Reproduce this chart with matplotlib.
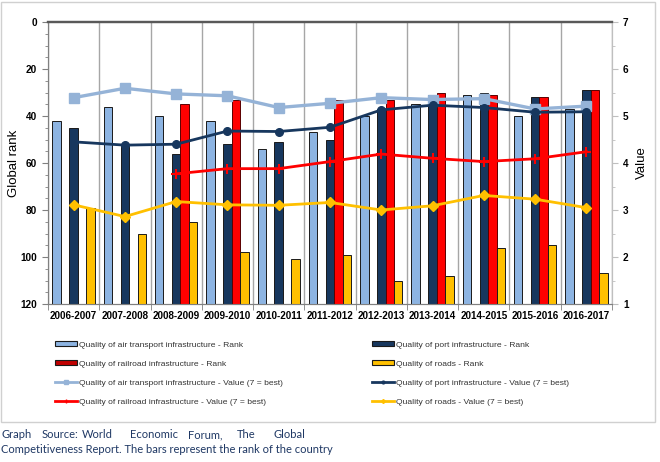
import numpy as np
import matplotlib
matplotlib.use('Agg')
import matplotlib.pyplot as plt
from matplotlib.patches import Patch, Rectangle
from matplotlib.lines import Line2D
from matplotlib.ticker import MultipleLocator

# ==============================
# DATA
# ==============================
years = ['2006-2007', '2007-2008', '2008-2009', '2009-2010', '2010-2011', '2011-2012',
         '2012-2013', '2013-2014', '2014-2015', '2015-2016', '2016-2017']

air_rank = [42, 36, 40, 42, 54, 47, 40, 35, 31, 40, 37]
port_rank = [45, 52, 56, 52, 51, 50, 37, 31, 30, 32, 29]
rail_rank = [np.nan, np.nan, 35, 33, np.nan, 33, 33, 30, 31, 32, 29]
roads_rank = [79, 90, 85, 98, 101, 99, 110, 108, 96, 95, 107]

air_value = [5.39, 5.59, 5.47, 5.43, 5.18, 5.27, 5.39, 5.35, 5.37, 5.15, 5.21]
port_value = [4.45, 4.38, 4.40, 4.68, 4.67, 4.76, 5.13, 5.23, 5.18, 5.08, 5.09]
rail_value = [np.nan, np.nan, 3.77, 3.88, 3.88, 4.03, 4.19, 4.10, 4.03, 4.09, 4.24]
roads_value = [3.11, 2.86, 3.18, 3.11, 3.10, 3.16, 3.00, 3.09, 3.31, 3.23, 3.05]

labels_rank = ['Quality of air transport infrastructure - Rank',
               'Quality of port infrastructure - Rank',
               'Quality of railroad infrastructure - Rank',
               'Quality of roads - Rank']
labels_value = ['Quality of air transport infrastructure - Value (7 = best)',
                'Quality of port infrastructure - Value (7 = best)',
                'Quality of railroad infrastructure - Value (7 = best)',
                'Quality of roads - Value (7 = best)']

RANK_MAX = 120

# colours
C_AIR = '#8DB4E2'
C_AIR_LINE = '#95B3D7'
C_PORT = '#17375E'
C_RAIL = '#FF0000'
C_ROADS = '#FFC000'

plt.rcParams['font.family'] = ['Liberation Sans', 'DejaVu Sans']

fig = plt.figure(figsize=(6.6, 4.62), dpi=100)
W, H = 660, 462

# outer chart frame
fig.patches.append(Rectangle((1 / W, (H - 422) / H), 654 / W, 420 / H,
                             transform=fig.transFigure, fill=False,
                             edgecolor='#D0D0D0', linewidth=1))

ax1 = fig.add_axes([48 / W, (H - 304) / H, (612 - 48) / W, (304 - 22) / H])
ax2 = ax1.twinx()

x = np.arange(len(years))
w = 0.165


def rank_bars(pos, ranks, color, edge):
    # bars grow up from the bottom of the reversed rank axis
    r = np.array(ranks, dtype=float)
    ax1.bar(pos, r - RANK_MAX, w, bottom=RANK_MAX, color=color,
            edgecolor=edge, linewidth=0.7, zorder=3)


# --- bars (rank, reversed axis) ---
rank_bars(x - 2 * w, air_rank, C_AIR, '#1a1a1a')
rank_bars(x, port_rank, C_PORT, '#1a1a1a')
rank_bars(x + w, rail_rank, C_RAIL, '#5a0000')
rank_bars(x + 2 * w, roads_rank, C_ROADS, '#1a1a1a')

ax1.set_ylim(RANK_MAX, 0)
ax1.set_xlim(-0.5, len(years) - 0.5)

# --- lines (value axis) ---
ax2.plot(x, air_value, color=C_AIR_LINE, linewidth=2.4, marker='s', markersize=6.5, zorder=4)
ax2.plot(x, port_value, color=C_PORT, linewidth=2.0, marker='o', markersize=5.5, zorder=4)
ax2.plot(x, rail_value, color=C_RAIL, linewidth=2.0, marker='+', markersize=7,
         markeredgewidth=1.5, zorder=4)
ax2.plot(x, roads_value, color=C_ROADS, linewidth=2.0, marker='D', markersize=5.5, zorder=4)
ax2.set_ylim(1, 7)

# ==========================================
# AXES STYLING
# ==========================================
ax1.set_xticks(x)
ax1.set_xticklabels(years, fontsize=7.1, fontweight='bold')
ax1.set_xticks(np.arange(-0.5, len(years)), minor=True)
ax1.tick_params(axis='x', which='major', length=0, pad=5)
ax1.tick_params(axis='x', which='minor', length=4, color='#808080')
ax1.grid(True, which='minor', axis='x', color='#A6A6A6', linewidth=1.0, zorder=0)

ax1.yaxis.set_major_locator(MultipleLocator(20))
ax1.yaxis.set_minor_locator(MultipleLocator(5))
ax1.tick_params(axis='y', which='major', length=4, color='#808080', labelsize=7.2, pad=4)
ax1.tick_params(axis='y', which='minor', length=2.5, color='#808080')
for t in ax1.get_yticklabels():
    t.set_fontweight('bold')
ax1.set_ylabel('Global rank', fontsize=9.5)
ax1.yaxis.set_label_coords(-0.049, 0.5)

ax2.yaxis.set_major_locator(MultipleLocator(1))
ax2.yaxis.set_minor_locator(MultipleLocator(0.5))
ax2.tick_params(axis='y', which='major', length=4, color='#BFBFBF', labelsize=7.2, pad=4)
ax2.tick_params(axis='y', which='minor', length=2.5, color='#BFBFBF')
for t in ax2.get_yticklabels():
    t.set_fontweight('bold')
ax2.set_ylabel('Value', fontsize=9.5, rotation=90)
ax2.yaxis.set_label_coords(1.042, 0.5)

for ax in (ax1, ax2):
    ax.spines['top'].set_color('#595959')
    ax.spines['top'].set_linewidth(1.6)
    ax.spines['left'].set_color('#808080')
    ax.spines['bottom'].set_color('#808080')
    ax.spines['right'].set_color('#BFBFBF')

# ==========================================
# LEGEND (two columns, row-major order)
# ==========================================
h_rank = [Patch(facecolor=C_AIR, edgecolor='#1a1a1a', linewidth=0.8),
          Patch(facecolor=C_PORT, edgecolor='#1a1a1a', linewidth=0.8),
          Patch(facecolor='#C00000', edgecolor='#1a1a1a', linewidth=0.8),
          Patch(facecolor=C_ROADS, edgecolor='#1a1a1a', linewidth=0.8)]
h_value = [Line2D([], [], color=C_AIR_LINE, linewidth=2, marker='s', markersize=3),
           Line2D([], [], color=C_PORT, linewidth=2, marker='o', markersize=2),
           Line2D([], [], color=C_RAIL, linewidth=2, marker='+', markersize=3),
           Line2D([], [], color=C_ROADS, linewidth=2, marker='D', markersize=2)]

leg_kw = dict(frameon=False, fontsize=6.1, handlelength=2.6, handleheight=0.55,
              handletextpad=0.25, labelspacing=1.38, borderpad=0, borderaxespad=0,
              labelcolor='#333333')
col1_h = [h_rank[0], h_rank[2], h_value[0], h_value[2]]
col1_l = [labels_rank[0], labels_rank[2], labels_value[0], labels_value[2]]
col2_h = [h_rank[1], h_rank[3], h_value[1], h_value[3]]
col2_l = [labels_rank[1], labels_rank[3], labels_value[1], labels_value[3]]
fig.legend(col1_h, col1_l, loc='upper left',
           bbox_to_anchor=(55 / W, (H - 341) / H), **leg_kw)
fig.legend(col2_h, col2_l, loc='upper left',
           bbox_to_anchor=(372 / W, (H - 341) / H), **leg_kw)

# ==========================================
# SOURCE NOTE (justified first line)
# ==========================================
src_color = '#1F3864'
src_font = ['Lato', 'DejaVu Sans']
words_line1 = ['Graph', 'Source:', 'World', 'Economic', 'Forum,', 'The', 'Global']
word_x = [1, 42, 82, 130, 188, 237, 273]
for wd, px in zip(words_line1, word_x):
    fig.text(px / W, (H - 438.5) / H, wd, fontsize=8, color=src_color,
             family=src_font, va='baseline', ha='left')
fig.text(1 / W, (H - 453) / H,
         'Competitiveness Report. The bars represent the rank of the country',
         fontsize=8, color=src_color, family=src_font, va='baseline', ha='left')

fig.savefig('out.png', dpi=100)
plt.close(fig)
